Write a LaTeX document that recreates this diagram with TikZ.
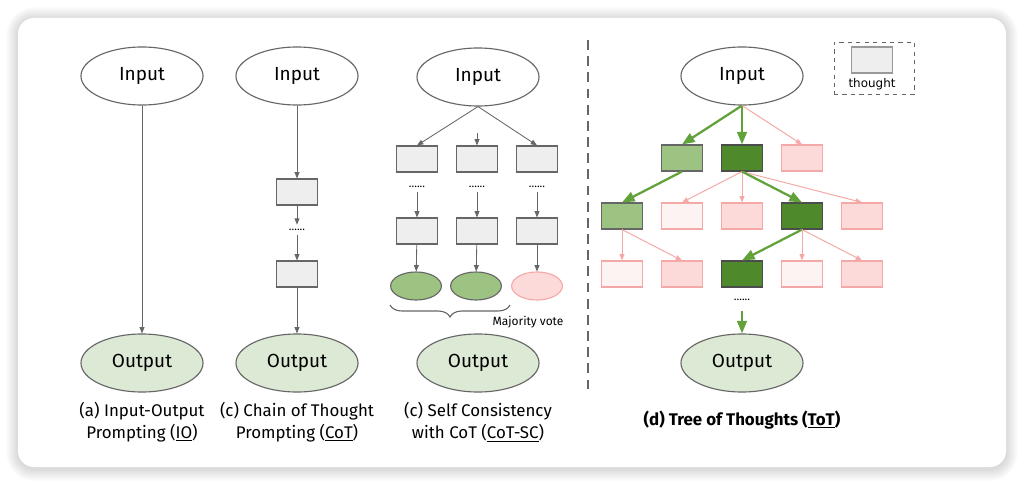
\documentclass[tikz,border=0pt]{standalone}
\usepackage{fontspec}
\setmainfont{Fira Sans}
\newfontfamily\legendfont{DejaVu Sans}
\usetikzlibrary{arrows.meta, positioning, shapes.geometric, decorations.pathreplacing}

\definecolor{boxgray}{HTML}{EEEEEE}
\definecolor{edgegray}{HTML}{666666}
\definecolor{outgreen}{HTML}{DCE9D5}
\definecolor{lightgreen}{HTML}{9DC383}
\definecolor{darkgreen}{HTML}{4E8A2B}
\definecolor{arrowgreen}{HTML}{62A23A}
\definecolor{pinkfill}{HTML}{FBDAD9}
\definecolor{pinkdraw}{HTML}{F4A9A6}
\definecolor{palepink}{HTML}{FDF3F3}

\begin{document}
\begin{tikzpicture}[
  x=0.025cm, y=-0.025cm,
  every node/.style={align=center},
  % Input / Output ellipses
  inputnode/.style={ellipse, draw=edgegray, fill=white, thick, minimum width=3.05cm, minimum height=1.45cm, inner sep=0pt, font=\fontsize{13.5}{15}\selectfont},
  outputnode/.style={inputnode, fill=outgreen},
  % Thought boxes
  thoughtbox/.style={rectangle, draw=edgegray, thick, fill=boxgray, minimum width=1.02cm, minimum height=0.65cm, inner sep=0pt},
  goodbox/.style={thoughtbox, fill=lightgreen},
  bestbox/.style={thoughtbox, draw=black!70, fill=darkgreen},
  badbox/.style={thoughtbox, draw=pinkdraw, fill=pinkfill},
  faintbox/.style={thoughtbox, draw=pinkdraw, fill=palepink},
  % Answers of self consistency
  answer/.style={ellipse, draw=edgegray, thick, fill=lightgreen, minimum width=1.27cm, minimum height=0.7cm, inner sep=0pt},
  badanswer/.style={answer, draw=pinkdraw, fill=pinkfill},
  % Dots
  dots/.style={font=\footnotesize, inner sep=3pt},
  % Edges
  grayarrow/.style={draw=edgegray, line width=0.6pt, -{Triangle[length=4.5pt, width=3.5pt]}},
  greenarrow/.style={draw=arrowgreen, line width=1.6pt, -{Triangle[length=9pt, width=7pt]}},
  pinkarrow/.style={draw=pinkdraw, line width=0.7pt, -{Triangle[length=4.5pt, width=3.5pt]}},
  % Captions
  caption/.style={font=\fontsize{12}{16}\selectfont}
]

\useasboundingbox (0,0) rectangle (1024,486);

% === Card with soft shadow ===
\foreach \s in {1,...,12}
  \fill[black, opacity=0.01, rounded corners={(16+\s)*0.025cm}] (18-\s,19-\s) rectangle (1006+\s,469+\s);
\fill[white, rounded corners=0.4cm] (18,18) rectangle (1006,467);

% === (a) IO ===
\node[inputnode] (ioin) at (142,76) {Input};
\node[outputnode] (ioout) at (142,363) {Output};
\draw[grayarrow] (ioin) -- (ioout);
\node[caption] (iocap) at (142,422) {(a) Input-Output\\Prompting (\underline{IO})};

% === (b) CoT ===
\node[inputnode] (cotin) at (297,76) {Input};
\node[thoughtbox] (cot1) at (297,192) {};
\node[dots] (cotdots) at (297,230) {......};
\node[thoughtbox] (cot2) at (297,274) {};
\node[outputnode] (cotout) at (297,363) {Output};
\draw[grayarrow] (cotin) -- (cot1);
\draw[grayarrow] (cot1) -- (cotdots);
\draw[grayarrow] (cotdots) -- (cot2);
\draw[grayarrow] (cot2) -- (cotout);
\node[caption] (cotcap) at (297,422) {(c) Chain of Thought\\Prompting (\underline{CoT})};

% === (c) CoT-SC ===
\node[inputnode] (scin) at (478,77) {Input};
\foreach \c/\x in {1/417, 2/477, 3/537} {
  \node[thoughtbox] (sca\c) at (\x,159) {};
  \node[dots] (scdots\c) at (\x,187) {......};
  \node[thoughtbox] (scb\c) at (\x,231) {};
  \draw[grayarrow] (scdots\c) -- (scb\c);
}
\node[answer] (scc1) at (416,286) {};
\node[answer] (scc2) at (476,286) {};
\node[badanswer] (scc3) at (537,286) {};
\foreach \c in {1,2,3}
  \draw[grayarrow] (scb\c) -- (scc\c);
\coordinate (scmid) at (477,133);
\draw[grayarrow] (scin.south) -- (sca1.north);
\draw[grayarrow] (scmid) -- (sca2);
\draw[grayarrow] (scin.south) -- (sca3.north);
% brace and vote
\draw[edgegray, thick, decorate, decoration={brace, mirror, amplitude=0.3cm}] (390,305) -- (510,305);
\node[font=\fontsize{8.5}{10}\selectfont] (vote) at (528,322) {Majority vote};
\node[outputnode] (scout) at (478,363) {Output};
\node[caption] (sccap) at (478,422) {(c) Self Consistency\\with CoT (\underline{CoT-SC})};

% === Separator ===
\draw[edgegray, line width=1.5pt, dash pattern=on 7pt off 4.5pt] (588,40) -- (588,394);

% === (d) ToT ===
\node[inputnode] (totin) at (742,76) {Input};
% level 1
\node[goodbox] (t11) at (682,158) {};
\node[bestbox] (t12) at (742,158) {};
\node[badbox] (t13) at (802,158) {};
% level 2
\node[goodbox] (t21) at (622,216) {};
\node[faintbox] (t22) at (682,216) {};
\node[badbox] (t23) at (742,216) {};
\node[bestbox] (t24) at (802,216) {};
\node[badbox] (t25) at (862,216) {};
% level 3
\node[faintbox] (t31) at (622,274) {};
\node[badbox] (t32) at (682,274) {};
\node[bestbox] (t33) at (742,274) {};
\node[faintbox] (t34) at (802,274) {};
\node[badbox] (t35) at (862,274) {};
\node[dots] (totdots) at (742,300) {......};
\node[outputnode] (totout) at (742,363) {Output};

% edges
\draw[greenarrow] (totin.south) -- (t11.north);
\draw[greenarrow] (totin.south) -- (t12.north);
\draw[pinkarrow] (totin.south) -- (t13.north);
\draw[greenarrow] (t11.south) -- (t21.north);
\foreach \t in {t22, t23, t25}
  \draw[pinkarrow] (t12.south) -- (\t.north);
\draw[greenarrow] (t12.south) -- (t24.north);
\draw[pinkarrow] (t21.south) -- (t31.north);
\draw[pinkarrow] (t21.south) -- (t32.north);
\draw[greenarrow] (t24.south) -- (t33.north);
\draw[pinkarrow] (t24.south) -- (t34.north);
\draw[pinkarrow] (t24.south) -- (t35.north);
\draw[greenarrow, shorten <=4pt] (totdots) -- (totout);
\node[caption, font=\fontsize{12}{16}\selectfont\bfseries] (totcap) at (742,420) {(d) Tree of Thoughts (\underline{ToT})};

% === Legend ===
\node[draw=edgegray, dashed, semithick, minimum width=2cm, minimum height=1.3cm] (legend) at (874,68) {};
\node[thoughtbox, draw=gray!80, line width=1pt] (legbox) at (872,60) {};
\node[font=\legendfont\fontsize{8.5}{9}\selectfont, below=0pt of legbox] (legtext) {thought};

\end{tikzpicture}
\end{document}
